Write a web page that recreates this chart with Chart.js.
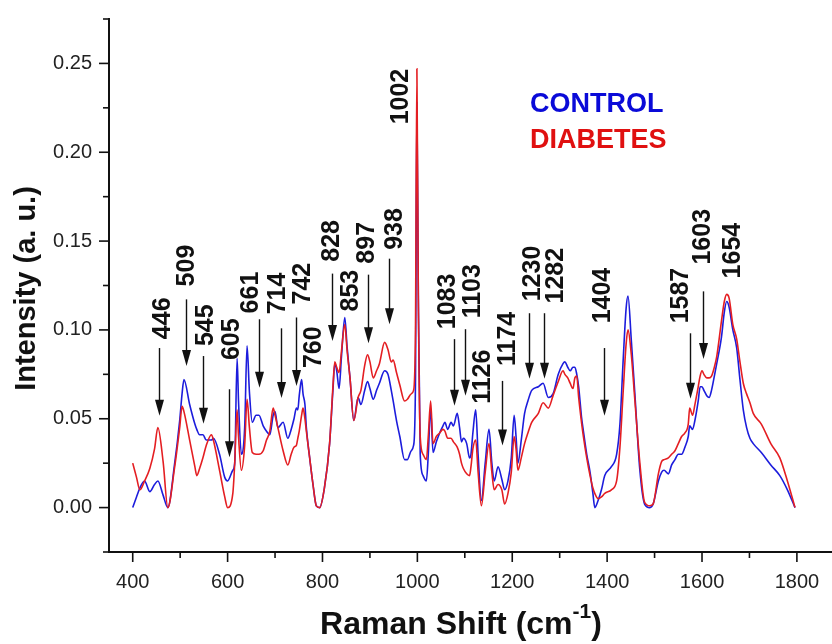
<!DOCTYPE html>
<html><head><meta charset="utf-8">
<script src="https://cdn.jsdelivr.net/npm/chart.js@4"></script>
<style>html,body{margin:0;padding:0;background:#fff}#wrap{width:832px;height:644px}</style>
</head><body><div id="wrap"><canvas id="c" width="832" height="644"></canvas></div>
<script>
const wavenumber = [400,408,415,425,436,446,453,464,474,488,499,504,508,520,531,535,541,548,555,566,570,583,594,600,611,615,620,623,629,636,641,646,652,660,666,675,682,689,696,700,706,717,727,734,740,745,748,751,756,759,763,766,773,780,787,794,804,815,822,826,830,835,840,847,852,858,866,875,881,889,895,900,907,914,920,931,938,945,949,956,963,973,979,987,992,996,999,1002,1006,1012,1019,1023,1028,1033,1040,1047,1054,1058,1064,1071,1076,1084,1089,1093,1097,1104,1110,1113,1117,1123,1128,1135,1143,1151,1157,1162,1170,1178,1184,1191,1198,1204,1208,1212,1219,1226,1233,1241,1255,1265,1276,1286,1297,1307,1311,1317,1322,1328,1332,1336,1340,1346,1350,1357,1364,1370,1374,1381,1388,1395,1409,1420,1427,1434,1440,1444,1451,1458,1469,1479,1490,1497,1508,1515,1520,1529,1536,1543,1550,1557,1564,1571,1574,1580,1585,1592,1596,1600,1604,1610,1615,1620,1626,1631,1641,1647,1652,1657,1665,1673,1680,1687,1694,1701,1708,1725,1745,1764,1780,1796];
const control = [0.000,0.006,0.011,0.015,0.009,0.013,0.015,0.007,0.000,0.024,0.049,0.064,0.072,0.058,0.047,0.044,0.041,0.041,0.038,0.038,0.039,0.030,0.017,0.015,0.021,0.025,0.084,0.060,0.030,0.045,0.091,0.065,0.048,0.052,0.052,0.046,0.043,0.041,0.052,0.054,0.045,0.048,0.039,0.044,0.050,0.056,0.055,0.063,0.072,0.064,0.058,0.045,0.028,0.013,0.001,0.000,0.011,0.036,0.066,0.081,0.077,0.067,0.085,0.107,0.090,0.073,0.049,0.062,0.058,0.066,0.071,0.067,0.061,0.066,0.070,0.077,0.075,0.066,0.060,0.049,0.040,0.027,0.027,0.032,0.035,0.070,0.228,0.120,0.030,0.018,0.015,0.030,0.056,0.031,0.037,0.042,0.046,0.048,0.044,0.048,0.046,0.053,0.045,0.037,0.039,0.036,0.028,0.030,0.042,0.055,0.030,0.004,0.025,0.044,0.025,0.015,0.023,0.016,0.010,0.015,0.028,0.052,0.040,0.025,0.038,0.053,0.060,0.066,0.068,0.070,0.062,0.064,0.075,0.081,0.082,0.079,0.077,0.079,0.079,0.075,0.068,0.051,0.043,0.030,0.020,0.008,0.000,0.004,0.010,0.018,0.023,0.030,0.047,0.084,0.112,0.119,0.094,0.066,0.021,0.002,0.000,0.002,0.015,0.020,0.021,0.019,0.024,0.027,0.030,0.030,0.034,0.040,0.046,0.044,0.049,0.060,0.068,0.068,0.066,0.063,0.062,0.066,0.074,0.081,0.096,0.110,0.116,0.113,0.100,0.090,0.072,0.055,0.045,0.039,0.036,0.031,0.024,0.018,0.010,0.000];
const diabetes = [0.025,0.017,0.010,0.015,0.022,0.033,0.045,0.026,0.000,0.022,0.045,0.057,0.054,0.038,0.023,0.018,0.022,0.028,0.035,0.041,0.038,0.021,0.006,0.000,0.008,0.025,0.055,0.040,0.021,0.035,0.061,0.045,0.031,0.030,0.030,0.032,0.038,0.043,0.056,0.052,0.045,0.032,0.024,0.030,0.034,0.035,0.039,0.043,0.052,0.056,0.050,0.043,0.028,0.013,0.001,0.000,0.011,0.036,0.068,0.082,0.079,0.076,0.088,0.103,0.088,0.073,0.049,0.062,0.066,0.080,0.086,0.082,0.073,0.077,0.081,0.093,0.089,0.082,0.083,0.076,0.069,0.060,0.061,0.064,0.066,0.100,0.247,0.120,0.040,0.030,0.027,0.040,0.060,0.036,0.040,0.042,0.044,0.043,0.039,0.039,0.037,0.034,0.030,0.025,0.022,0.019,0.018,0.023,0.033,0.038,0.020,0.001,0.020,0.036,0.020,0.010,0.013,0.010,0.002,0.008,0.020,0.040,0.033,0.021,0.028,0.036,0.042,0.048,0.053,0.059,0.056,0.063,0.071,0.077,0.075,0.073,0.070,0.067,0.073,0.074,0.062,0.048,0.040,0.028,0.018,0.011,0.008,0.005,0.006,0.008,0.010,0.015,0.034,0.066,0.092,0.100,0.086,0.062,0.025,0.003,0.001,0.002,0.019,0.026,0.027,0.028,0.030,0.032,0.036,0.040,0.042,0.047,0.056,0.052,0.058,0.068,0.074,0.077,0.075,0.073,0.073,0.074,0.079,0.085,0.105,0.116,0.120,0.118,0.103,0.095,0.082,0.070,0.064,0.059,0.053,0.047,0.036,0.028,0.015,0.000];
const xTickLabels = [400,600,800,1000,1200,1400,1600,1800];
const yTickLabels = [0.00,0.05,0.10,0.15,0.20,0.25];
const seriesNames = ['CONTROL','DIABETES'];

// peak annotations (data coordinates): label anchor + optional arrow
const peaks = [
  {t:'446', lx:461, ly:0.0948, ax:455, a0:0.0898, a1:0.0517},
  {t:'509', lx:512, ly:0.1245, ax:512, a0:0.1172, a1:0.0797},
  {t:'545', lx:552, ly:0.0909, ax:547.6, a0:0.0853, a1:0.0472},
  {t:'605', lx:608, ly:0.0830, ax:602, a0:0.0666, a1:0.0283},
  {t:'661', lx:647, ly:0.1093, ax:665.7, a0:0.1060, a1:0.0674},
  {t:'714', lx:703.6, ly:0.1088, ax:712, a0:0.1009, a1:0.0617},
  {t:'742', lx:756, ly:0.1143, ax:743.7, a0:0.1070, a1:0.0685},
  {t:'760', lx:779.5, ly:0.0785},
  {t:'828', lx:817.5, ly:0.1384, ax:819.6, a0:0.1317, a1:0.0937},
  {t:'853', lx:857.5, ly:0.1104},
  {t:'897', lx:891, ly:0.1373, ax:895.5, a0:0.1311, a1:0.0925},
  {t:'938', lx:952, ly:0.1451, ax:939.7, a0:0.1401, a1:0.1032},
  {t:'1002', lx:963, ly:0.2157},
  {t:'1083', lx:1062, ly:0.1004, ax:1076.8, a0:0.0948, a1:0.0573},
  {t:'1103', lx:1114.7, ly:0.1065, ax:1100, a0:0.1004, a1:0.0629},
  {t:'1126', lx:1136, ly:0.0584},
  {t:'1174', lx:1188.5, ly:0.0797, ax:1178, a0:0.0713, a1:0.0349},
  {t:'1230', lx:1241, ly:0.1161, ax:1235, a0:0.1094, a1:0.0725},
  {t:'1282', lx:1290, ly:0.1149, ax:1266.5, a0:0.1094, a1:0.0725},
  {t:'1404', lx:1389, ly:0.1037, ax:1393, a0:0.0898, a1:0.0517},
  {t:'1587', lx:1553, ly:0.1037, ax:1574, a0:0.0981, a1:0.0612},
  {t:'1603', lx:1600, ly:0.1368, ax:1602, a0:0.1217, a1:0.0836},
  {t:'1654', lx:1663, ly:0.1290}
];

const FONT = "'Liberation Sans', Arial, Helvetica, sans-serif";
const BLUE = '#1c1cdc', RED = '#e41e22';

const decor = {
  id:'decor',
  afterDraw(chart){
    const {ctx, chartArea:ca, scales:{x, y}} = chart;
    ctx.save();
    ctx.strokeStyle = '#111'; ctx.lineWidth = 1.6;
    x.ticks.forEach(t => {
      const px = x.getPixelForValue(t.value);
      const major = xTickLabels.includes(t.value);
      ctx.beginPath(); ctx.moveTo(px, ca.bottom); ctx.lineTo(px, ca.bottom + (major ? 10 : 6)); ctx.stroke();
    });
    y.ticks.forEach(t => {
      const py = y.getPixelForValue(t.value);
      const major = yTickLabels.some(v => Math.abs(v - t.value) < 1e-6);
      ctx.beginPath(); ctx.moveTo(ca.left, py); ctx.lineTo(ca.left - (major ? 10 : 6), py); ctx.stroke();
    });
    ctx.fillStyle = '#111'; ctx.strokeStyle = '#111';
    peaks.forEach(p => {
      if (p.ax !== undefined) {
        const px = Math.round(x.getPixelForValue(p.ax)) + 0.5;
        const y0 = y.getPixelForValue(p.a0), y1 = y.getPixelForValue(p.a1);
        ctx.lineWidth = 1.4;
        ctx.beginPath(); ctx.moveTo(px, y0); ctx.lineTo(px, y1 - 14); ctx.stroke();
        ctx.beginPath(); ctx.moveTo(px - 4.5, y1 - 16); ctx.lineTo(px + 4.5, y1 - 16); ctx.lineTo(px, y1); ctx.closePath(); ctx.fill();
      }
      ctx.save();
      ctx.translate(x.getPixelForValue(p.lx), y.getPixelForValue(p.ly));
      ctx.rotate(-Math.PI/2);
      ctx.font = 'bold 25px ' + FONT;
      ctx.textAlign = 'left'; ctx.textBaseline = 'middle';
      ctx.fillText(p.t, 0, 1);
      ctx.restore();
    });
    ctx.font = 'bold 27px ' + FONT;
    ctx.textAlign = 'left'; ctx.textBaseline = 'middle';
    ctx.fillStyle = '#0a0ad8'; ctx.fillText(seriesNames[0], 530, 105);
    ctx.fillStyle = '#e01010'; ctx.fillText(seriesNames[1], 530, 141);
    ctx.fillStyle = '#111';
    ctx.font = 'bold 29px ' + FONT;
    ctx.save(); ctx.translate(27, (ca.top + ca.bottom)/2 + 3); ctx.rotate(-Math.PI/2);
    ctx.textAlign = 'center'; ctx.fillText('Intensity (a. u.)', 0, 0); ctx.restore();
    const main = 'Raman Shift (cm', sup = '-1', close = ')';
    ctx.font = 'bold 32px ' + FONT; const w1 = ctx.measureText(main).width, w3 = ctx.measureText(close).width;
    ctx.font = 'bold 21px ' + FONT; const w2 = ctx.measureText(sup).width;
    let sx = 461 - (w1 + w2 + w3)/2; const by = 625;
    ctx.textAlign = 'left';
    ctx.font = 'bold 32px ' + FONT; ctx.fillText(main, sx, by); sx += w1;
    ctx.font = 'bold 21px ' + FONT; ctx.fillText(sup, sx, by - 13); sx += w2;
    ctx.font = 'bold 32px ' + FONT; ctx.fillText(close, sx, by);
    ctx.restore();
  }
};

new Chart(document.getElementById('c'), {
  type: 'line',
  data: {
    datasets: [
      {label: seriesNames[1], data: wavenumber.map((w,i)=>({x:w, y:diabetes[i]})), borderColor: RED, borderWidth: 1.6, pointRadius: 0, cubicInterpolationMode: 'monotone', fill:false},
      {label: seriesNames[0], data: wavenumber.map((w,i)=>({x:w, y:control[i]})), borderColor: BLUE, borderWidth: 1.6, pointRadius: 0, cubicInterpolationMode: 'monotone', fill:false}
    ]
  },
  options: {
    responsive: false, animation: false, devicePixelRatio: 1,
    layout: {padding: {left: 0, right: 0, top: 16, bottom: 0}},
    plugins: {legend: {display: false}, tooltip: {enabled: false}},
    scales: {
      x: {
        type: 'linear', min: 350, max: 1874,
        afterFit: s => { s.height = 92; },
        border: {display: true, color: '#111', width: 2},
        grid: {display: true, drawOnChartArea: false, drawTicks: true, tickLength: 10, tickColor: 'rgba(0,0,0,0)'},
        ticks: {stepSize: 100, includeBounds: false, autoSkip: false, maxRotation: 0, padding: 8, color: '#222',
          font: {family: FONT, size: 20},
          callback: v => xTickLabels.includes(v) ? String(v) : ''}
      },
      y: {
        type: 'linear', min: -0.025, max: 0.275,
        afterFit: s => { s.width = 109; },
        border: {display: true, color: '#111', width: 2},
        grid: {display: true, drawOnChartArea: false, drawTicks: true, tickLength: 10, tickColor: 'rgba(0,0,0,0)'},
        ticks: {stepSize: 0.025, includeBounds: false, autoSkip: false, padding: 7, color: '#222',
          font: {family: FONT, size: 20},
          callback: v => yTickLabels.some(t => Math.abs(t - v) < 1e-6) ? v.toFixed(2) : ''}
      }
    }
  },
  plugins: [decor]
});
</script></body></html>
